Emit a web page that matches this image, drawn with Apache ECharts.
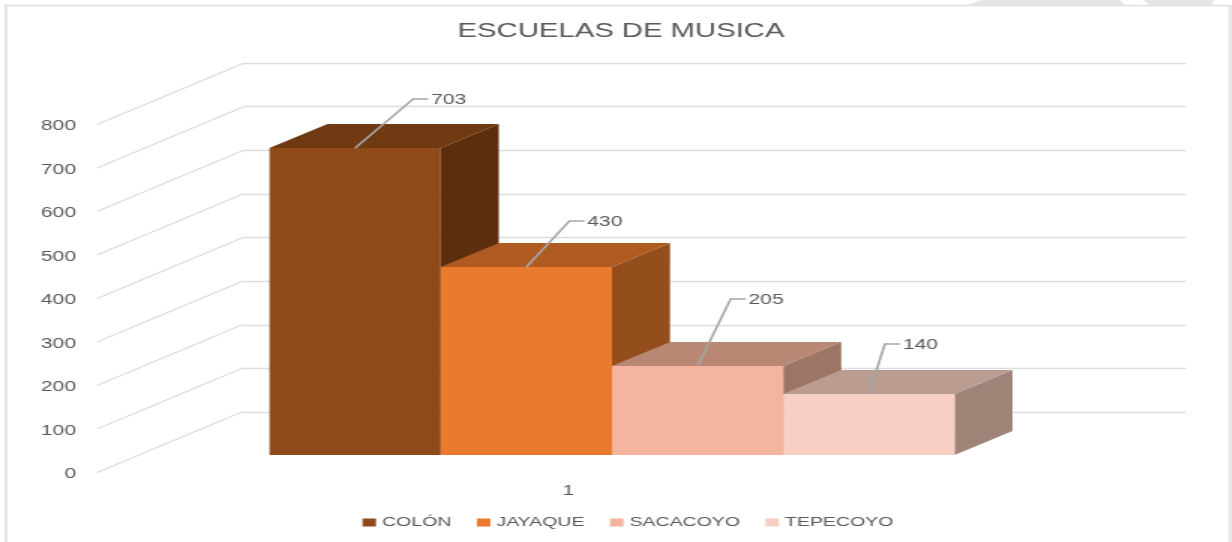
<!DOCTYPE html>
<html>
<head>
<meta charset="utf-8">
<style>
  html, body { margin: 0; padding: 0; background: #fff; overflow: hidden; }
  /* the reference is a horizontally stretched picture, so the canvas is stretched the same way */
  #main { width: 821.33px; height: 542px; transform: scaleX(1.5); transform-origin: 0 0; }
</style>
<script src="https://cdn.jsdelivr.net/npm/echarts@6/dist/echarts.min.js"></script>
</head>
<body>
<div id="main"></div>
<script>
const schools = ['COLÓN', 'JAYAQUE', 'SACACOYO', 'TEPECOYO']
const schoolValues = [703, 430, 205, 140]
const categoryLabels = ['1']
const yTicks = [0, 100, 200, 300, 400, 500, 600, 700, 800]

const frontColors = ['#8E4B19', '#E97A2E', '#F4B49E', '#F8CFC3']
const topColors = ['#6F3A12', '#AE5A20', '#B98874', '#BA9D90']
const sideColors = ['#5C2E0E', '#934E1C', '#9C7565', '#A08478']
// leader line bend, in screen px from the middle of the bar's top edge
const leaderOffsets = [[58, -49], [43, -46], [33, -67], [16, -50]]

const STRETCH = 1.5
const px = x => x / STRETCH
const DEPTH_X = px(58)
const DEPTH_Y = -24
const LABEL_DROP = 2 // axis labels sit this far below the gridline starts
const TEXT_COLOR = '#595959'
const FONT = '"Liberation Sans", sans-serif'

const face = (points, color) => ({ type: 'polygon', shape: { points }, style: { fill: color } })

function renderBar(index) {
  return (params, api) => {
    const pos = api.coord([api.value(0), api.value(1)])
    const cx = pos[0]
    const y1 = Math.round(pos[1])
    const y0 = api.coord([api.value(0), 0])[1]
    const half = api.size([1, 0])[0] / 2
    const x0 = cx - half
    const x1 = cx + half
    const [bendX, bendY] = leaderOffsets[index]
    const bx = cx + px(bendX)
    const by = y1 + bendY
    const tail = bx + px(15)
    return {
      type: 'group',
      children: [
        face([[x1, y0], [x1 + DEPTH_X, y0 + DEPTH_Y], [x1 + DEPTH_X, y1 + DEPTH_Y], [x1, y1]], sideColors[index]),
        face([[x0, y1], [x1, y1], [x1 + DEPTH_X, y1 + DEPTH_Y], [x0 + DEPTH_X, y1 + DEPTH_Y]], topColors[index]),
        face([[x0, y0], [x1, y0], [x1, y1], [x0, y1]], frontColors[index]),
        {
          type: 'polyline',
          shape: { points: [[cx, y1], [bx, by], [tail, by]] },
          style: { fill: null, stroke: '#A6A6A6', lineWidth: 1.6 }
        },
        {
          type: 'text',
          style: {
            x: tail + px(3), y: by + 1, text: String(api.value(1)),
            fill: TEXT_COLOR, font: '14px ' + FONT, verticalAlign: 'middle'
          }
        }
      ]
    }
  }
}

const barSeries = schools.map((name, i) => ({
  name,
  type: 'custom',
  xAxisIndex: 2,
  yAxisIndex: 2,
  itemStyle: { color: frontColors[i] },
  data: [[i, schoolValues[i]]],
  renderItem: renderBar(i),
  z: 5
}))

// slanted part of the gridlines, from the front edge back to the wall
const slantSeries = {
  type: 'custom',
  xAxisIndex: 1,
  yAxisIndex: 1,
  silent: true,
  data: yTicks.map(v => [0, v]),
  encode: { x: 0, y: 1 },
  renderItem(params, api) {
    const y = api.coord([0, api.value(1)])[1] - LABEL_DROP
    const x = params.coordSys.x
    return {
      type: 'line',
      shape: { x1: x, y1: y, x2: x + px(146), y2: y - 61 },
      style: { stroke: '#DDDDDD', lineWidth: 1.3 }
    }
  },
  z: 1
}

const option = {
  animation: false,
  backgroundColor: '#fff',
  textStyle: { fontFamily: FONT },
  title: {
    text: 'ESCUELAS DE MUSICA',
    left: px(613.5),
    textAlign: 'center',
    top: 17,
    textStyle: { color: TEXT_COLOR, fontSize: 19.5, fontWeight: 'normal', fontFamily: FONT }
  },
  legend: {
    data: schools,
    icon: 'rect',
    bottom: 13,
    left: px(362.5),
    padding: 0,
    itemWidth: 9,
    itemHeight: 8,
    itemGap: 17,
    textStyle: { color: TEXT_COLOR, fontSize: 13, fontFamily: FONT, padding: [0, 0, 0, -1] }
  },
  grid: [
    { left: px(243), width: px(943), top: 63, height: 349 }, // back wall
    { left: px(97), width: px(943), top: 124.5 + LABEL_DROP, height: 348 }, // front edge, carries the labels
    { left: px(269.5), width: px(685), top: 106, height: 349 } // bars
  ],
  xAxis: [
    { gridIndex: 0, type: 'category', data: categoryLabels, show: false },
    {
      gridIndex: 1, type: 'category', data: categoryLabels,
      axisLine: { show: false }, axisTick: { show: false },
      axisLabel: { color: TEXT_COLOR, fontSize: 14, margin: 10 }
    },
    { gridIndex: 2, type: 'category', data: schools, show: false }
  ],
  yAxis: [
    {
      gridIndex: 0, type: 'value', min: 0, max: 800, interval: 100,
      axisLine: { show: false }, axisTick: { show: false }, axisLabel: { show: false },
      splitLine: { lineStyle: { color: '#DDDDDD', width: 1.3 } }
    },
    {
      gridIndex: 1, type: 'value', min: 0, max: 800, interval: 100,
      axisLine: { show: false }, axisTick: { show: false }, splitLine: { show: false },
      axisLabel: { color: TEXT_COLOR, fontSize: 14, margin: 14 }
    },
    { gridIndex: 2, type: 'value', min: 0, max: 800, show: false, splitLine: { show: false } }
  ],
  graphic: [
    {
      type: 'rect', silent: true, z: 0,
      shape: { x: px(6), y: 5.5, width: px(1224), height: 560 },
      style: { fill: null, stroke: '#DEDEDE', lineWidth: 1.5 }
    },
    {
      type: 'polygon', silent: true, z: 0,
      shape: { points: [[px(968), 5], [px(982), 0], [px(1120), 0], [px(1125), 5]] },
      style: { fill: '#E6E6E6' }
    },
    {
      type: 'polygon', silent: true, z: 0,
      shape: { points: [[px(1150), 5], [px(1143), 0], [px(1214), 0], [px(1211), 5]] },
      style: { fill: '#E6E6E6' }
    }
  ],
  series: [slantSeries, ...barSeries]
}

const chart = echarts.init(document.getElementById('main'))
chart.setOption(option)
</script>
</body>
</html>
